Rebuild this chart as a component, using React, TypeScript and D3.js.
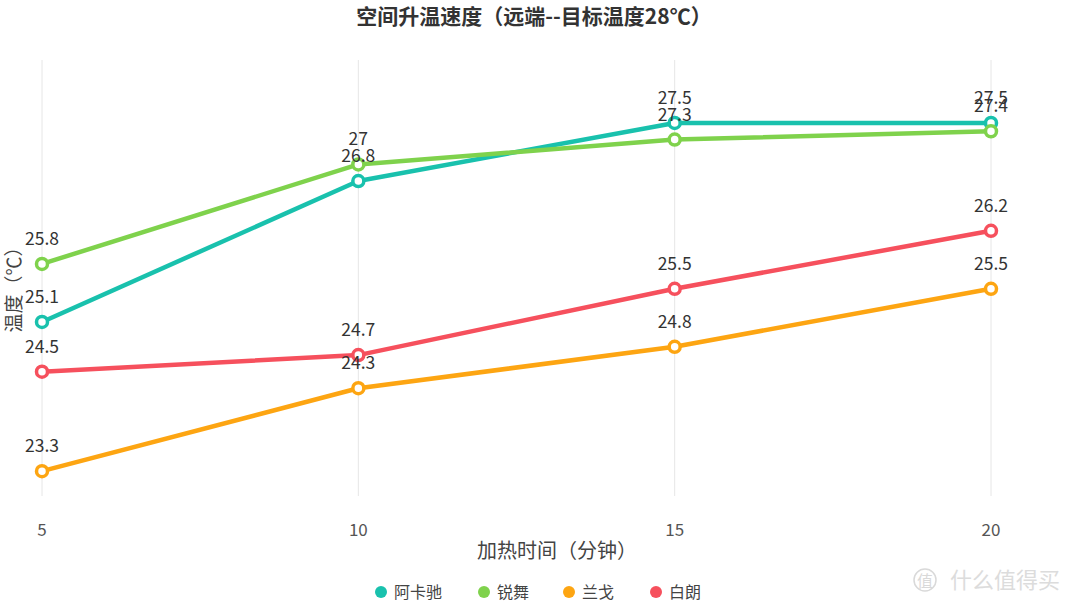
import { useEffect, useRef } from 'react';
import * as d3 from 'd3';

const minutes = [5, 10, 15, 20];
const seriesNames = ['阿卡驰', '锐舞', '兰戈', '白朗'];
const akachi = [25.1, 26.8, 27.5, 27.5];
const ruiwu = [25.8, 27, 27.3, 27.4];
const lange = [23.3, 24.3, 24.8, 25.5];
const bailang = [24.5, 24.7, 25.5, 26.2];
const colors = ['#19c1ad', '#7fd24c', '#fda512', '#f6505d'];

const width = 1080;
const height = 608;
const FONT = '"Noto Sans CJK SC", "Noto Sans", sans-serif';

export default function App() {
  const svgRef = useRef<SVGSVGElement>(null);

  useEffect(() => {
    if (!svgRef.current) return;
    const svg = d3.select(svgRef.current);
    svg.selectAll('*').remove();

    const series = [akachi, ruiwu, lange, bailang];

    const x = d3.scaleLinear().domain([5, 20]).range([42, 991]);
    const y = d3.scaleLinear().domain([23, 28.26]).range([496, 60]);

    // title
    svg.append('text')
      .attr('x', 534).attr('y', 24)
      .attr('text-anchor', 'middle')
      .attr('font-family', FONT)
      .attr('font-size', 21).attr('font-weight', 'bold')
      .attr('fill', '#333')
      .text('空间升温速度（远端--目标温度28℃）');

    // vertical gridlines
    svg.append('g').selectAll('line')
      .data(minutes)
      .enter().append('line')
      .attr('x1', d => x(d)).attr('x2', d => x(d))
      .attr('y1', 60).attr('y2', 496)
      .attr('stroke', '#e6e6e6').attr('stroke-width', 1);

    // x ticks
    svg.append('g').selectAll('text')
      .data(minutes)
      .enter().append('text')
      .attr('x', d => x(d)).attr('y', 536)
      .attr('text-anchor', 'middle')
      .attr('font-family', FONT).attr('font-size', 17)
      .attr('fill', '#555')
      .text(d => d);

    // axis titles
    svg.append('text')
      .attr('x', 557).attr('y', 558)
      .attr('text-anchor', 'middle')
      .attr('font-family', FONT).attr('font-size', 20)
      .attr('fill', '#444')
      .text('加热时间（分钟）');

    svg.append('text')
      .attr('transform', 'translate(21,285) rotate(-90)')
      .attr('text-anchor', 'middle')
      .attr('font-family', FONT).attr('font-size', 19)
      .attr('fill', '#444')
      .text('温度（℃）');

    const line = d3.line<number>()
      .x((_, i) => x(minutes[i]))
      .y(d => y(d));

    series.forEach((vals, si) => {
      svg.append('path')
        .datum(vals)
        .attr('fill', 'none')
        .attr('stroke', colors[si])
        .attr('stroke-width', 4.5)
        .attr('stroke-linejoin', 'round')
        .attr('d', line);
    });

    series.forEach((vals, si) => {
      svg.append('g').selectAll('circle')
        .data(vals)
        .enter().append('circle')
        .attr('cx', (_, i) => x(minutes[i]))
        .attr('cy', d => y(d))
        .attr('r', 5.5)
        .attr('fill', '#fff')
        .attr('stroke', colors[si])
        .attr('stroke-width', 3.5);
    });

    series.forEach(vals => {
      svg.append('g').selectAll('text')
        .data(vals)
        .enter().append('text')
        .attr('x', (_, i) => x(minutes[i]))
        .attr('y', d => y(d) - 19)
        .attr('text-anchor', 'middle')
        .attr('font-family', FONT).attr('font-size', 17.5)
        .attr('fill', '#333')
        .text(d => d);
    });

    // legend
    const legendX = [381, 484, 569, 656];
    const legend = svg.append('g');
    seriesNames.forEach((name, i) => {
      legend.append('circle')
        .attr('cx', legendX[i]).attr('cy', 592)
        .attr('r', 6).attr('fill', colors[i]);
      legend.append('text')
        .attr('x', legendX[i] + 13).attr('y', 598)
        .attr('font-family', FONT).attr('font-size', 16)
        .attr('fill', '#444')
        .text(name);
    });

    // watermark
    svg.append('circle')
      .attr('cx', 925).attr('cy', 580).attr('r', 11)
      .attr('fill', 'none').attr('stroke', '#d9d9d9').attr('stroke-width', 1.5);
    svg.append('text')
      .attr('x', 925).attr('y', 587)
      .attr('text-anchor', 'middle')
      .attr('font-family', FONT).attr('font-size', 16)
      .attr('fill', '#d9d9d9')
      .text('值');
    svg.append('text')
      .attr('x', 950).attr('y', 588)
      .attr('font-family', FONT).attr('font-size', 22)
      .attr('fill', '#dcdcdc')
      .text('什么值得买');
  }, []);

  return (
    <div style={{ position: 'fixed', left: 0, top: 0 }}>
      <svg ref={svgRef} width={width} height={height} style={{ display: 'block', background: '#fff' }} />
    </div>
  );
}
